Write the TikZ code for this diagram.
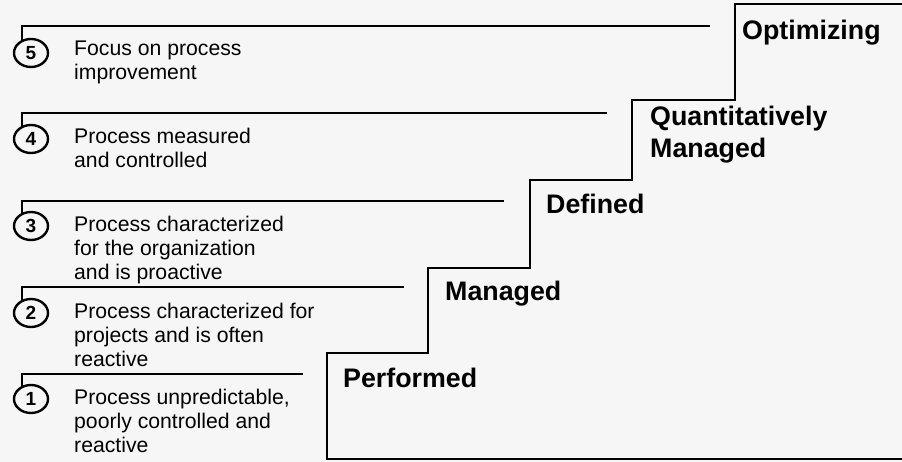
\documentclass[tikz,border=0pt]{standalone}
\usepackage{fontspec}
\setmainfont{Liberation Sans}
\usetikzlibrary{shapes.geometric}
\definecolor{bgc}{rgb}{0.965,0.965,0.965}
\begin{document}
\begin{tikzpicture}[x=1pt,y=-1pt,
  num/.style={draw,ellipse,line width=2.4pt,minimum width=34pt,minimum height=28pt,inner sep=0pt,font=\bfseries\fontsize{19}{19}\selectfont},
  desc/.style={anchor=north west,align=left,inner sep=0pt,font=\fontsize{21.2}{24}\selectfont},
  lvl/.style={anchor=north west,align=left,inner sep=0pt,font=\bfseries\fontsize{26.8}{32}\selectfont},
  lvline/.style={line width=2.2pt},
  stair/.style={line width=2.6pt}]
\fill[bgc] (0,0) rectangle (902,462);
\useasboundingbox (0,0) rectangle (902,462);

% staircase
\draw[stair] (902,459) -- (327,459) -- (327,353) -- (428,353) -- (428,268) -- (530,268)
  -- (530,180) -- (632,180) -- (632,100) -- (735,100) -- (735,4) -- (902,4);

% level labels
\node[lvl] (opt) at (742,20) {Optimizing};
\node[lvl] (qm) at (650,106) {Quantitatively\\Managed};
\node[lvl] (def) at (546,194) {Defined};
\node[lvl] (man) at (445,281) {Managed};
\node[lvl] (perf) at (343,368) {Performed};

% circles
\node[num] (c5) at (31,53) {5};
\node[num] (c4) at (31,139) {4};
\node[num] (c3) at (31,226) {3};
\node[num] (c2) at (31,313) {2};
\node[num] (c1) at (31,399) {1};

% line ends
\coordinate (r5) at (710,26);
\coordinate (r4) at (607,113);
\coordinate (r3) at (504,201);
\coordinate (r2) at (404,287);
\coordinate (r1) at (303,374);

\draw[lvline] (c5.123) |- (r5);
\draw[lvline] (c4.123) |- (r4);
\draw[lvline] (c3.123) |- (r3);
\draw[lvline] (c2.123) |- (r2);
\draw[lvline] (c1.123) |- (r1);

% descriptions
\node[desc] (d5) at (74,41) {Focus on process\\improvement};
\node[desc] (d4) at (74,128) {Process measured\\and controlled};
\node[desc] (d3) at (74,216) {Process characterized\\for the organization\\and is proactive};
\node[desc] (d2) at (74,303) {Process characterized for\\projects and is often\\reactive};
\node[desc] (d1) at (74,389) {Process unpredictable,\\poorly controlled and\\reactive};
\end{tikzpicture}
\end{document}
